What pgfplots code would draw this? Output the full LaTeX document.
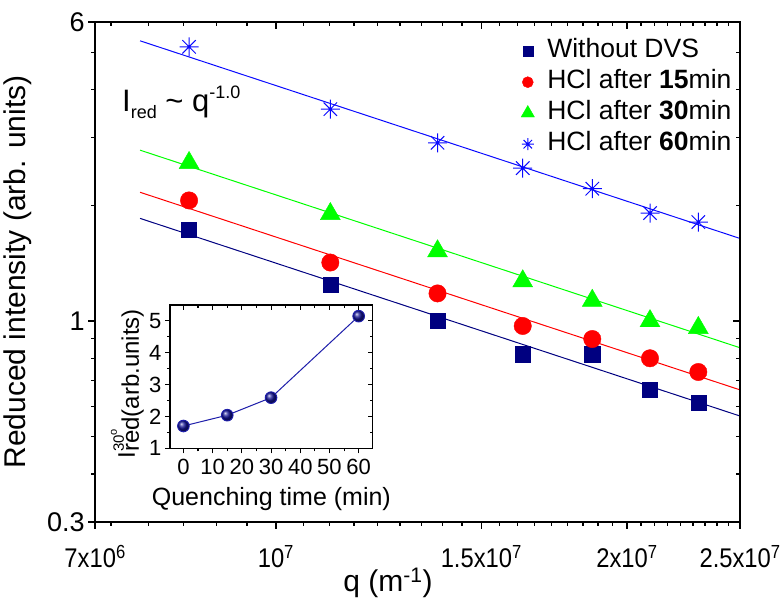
\documentclass[border=0pt]{standalone}
\usepackage{fontspec}
\setmainfont{Liberation Sans}
\usepackage{graphicx}
\usepackage{pgfplots}
\pgfplotsset{compat=1.18}
\pgfplotsset{legend image code/.code={\path[draw=none,fill=none] (0pt,-5pt) rectangle (26pt,5pt); \draw[#1] plot coordinates {(8.5pt,0pt)};}}

\definecolor{navyc}{RGB}{0,0,128}
\definecolor{redc}{RGB}{255,0,0}
\definecolor{greenc}{RGB}{0,255,0}
\definecolor{bluec}{RGB}{10,10,255}
\definecolor{insetline}{RGB}{30,30,170}
\definecolor{ballc}{RGB}{20,20,150}

\newcommand{\tl}[1]{\scalebox{0.88}[1]{#1}}

\pgfdeclareplotmark{star8}{%
  \pgfpathmoveto{\pgfqpoint{-\pgfplotmarksize}{0pt}}\pgfpathlineto{\pgfqpoint{\pgfplotmarksize}{0pt}}%
  \pgfpathmoveto{\pgfqpoint{0pt}{-\pgfplotmarksize}}\pgfpathlineto{\pgfqpoint{0pt}{\pgfplotmarksize}}%
  \pgfpathmoveto{\pgfqpoint{-0.7071\pgfplotmarksize}{-0.7071\pgfplotmarksize}}\pgfpathlineto{\pgfqpoint{0.7071\pgfplotmarksize}{0.7071\pgfplotmarksize}}%
  \pgfpathmoveto{\pgfqpoint{-0.7071\pgfplotmarksize}{0.7071\pgfplotmarksize}}\pgfpathlineto{\pgfqpoint{0.7071\pgfplotmarksize}{-0.7071\pgfplotmarksize}}%
  \pgfusepathqstroke}
\pgfdeclareplotmark{myball}{\shade[ball color=ballc] (0pt,0pt) circle (\pgfplotmarksize);}

\def\minorX{7222222,7777778,8333333,8888889,9444444,10555556,11111111,11666667,12222222,12777778,13333333,13888889,14444444,15555556,16111111,16666667,17222222,17777778,18333333,18888889,19444444,20555556,21111111,21666667,22222222,22777778,23333333,23888889,24444444}

\begin{document}
\begin{tikzpicture}
\path[use as bounding box] (0,0) rectangle (782pt,602pt);
\begin{axis}[
  at={(95pt,80pt)}, anchor=south west, scale only axis, width=645pt, height=500pt,
  xmode=log, ymode=log, xmin=7e6, xmax=2.5e7, ymin=0.3, ymax=6,
  axis line style={line width=1.5pt}, tick style={line width=1.3pt,black},
  major tick length=7pt, minor tick length=4pt,
  xtick={7e6,1e7,1.5e7,2e7,2.5e7},
  minor xtick/.expand once=\minorX,
  ytick={0.3,1,6}, minor ytick={0.4,0.5,0.6,0.7,0.8,0.9,2,3,4,5},
  tick align=outside, tick pos=left,
  xticklabels={\tl{7x10\textsuperscript{6}}, \tl{10\textsuperscript{7}}, \tl{1.5x10\textsuperscript{7}}, \tl{2x10\textsuperscript{7}}, \tl{2.5x10\textsuperscript{7}}},
  yticklabels={0.3,1,6},
  ticklabel style={font=\fontsize{27}{31}\selectfont},
  xticklabel style={yshift=-13pt},
  xlabel={q (m\textsuperscript{-1})},
  ylabel={Reduced intensity (arb. units)},
  label style={font=\fontsize{30}{35}\selectfont},
  xlabel style={at={(axis description cs:0.454,-0.122)}, anchor=center},
  ylabel style={at={(axis description cs:-0.1194,0.5)}, anchor=center},
  legend cell align=left,
  legend style={draw=none, fill=none, at={(rel axis cs:0.6527,0.977)}, anchor=north west,
    font=\fontsize{26.5}{31}\selectfont, row sep=0pt,
    nodes={inner sep=2pt, text height=20pt, text depth=7pt}},
]
\addplot[navyc, line width=1pt, forget plot] coordinates {(7.65e6,1.850) (2.5e7,0.566)};
\addplot[redc, line width=1pt, forget plot] coordinates {(7.65e6,2.163) (2.5e7,0.662)};
\addplot[greenc, line width=1pt, forget plot] coordinates {(7.65e6,2.784) (2.5e7,0.852)};
\addplot[bluec, line width=1pt, forget plot] coordinates {(7.65e6,5.36) (2.5e7,1.64)};

\addplot[only marks, mark=square*, mark size=7.6pt, color=navyc,
  legend image post style={mark size=5pt}] coordinates {
 (8.426e6,1.725) (1.1135e7,1.245) (1.3759e7,1.00) (1.6279e7,0.82) (1.8674e7,0.82) (2.0927e7,0.662) (2.3021e7,0.612)};
\addlegendentry{Without DVS}
\addplot[only marks, mark=*, mark size=8.7pt, color=redc,
  legend image post style={mark size=5.5pt}] coordinates {
 (8.426e6,2.06) (1.1135e7,1.42) (1.3759e7,1.18) (1.6279e7,0.971) (1.8674e7,0.898) (2.0927e7,0.80) (2.3021e7,0.737)};
\addlegendentry{HCl after \textbf{15}min}
\addplot[only marks, mark=triangle*, mark size=11.5pt, color=greenc,
  legend image post style={mark size=7.7pt}] coordinates {
 (8.426e6,2.58) (1.1135e7,1.90) (1.3759e7,1.52) (1.6279e7,1.27) (1.8674e7,1.13) (2.0927e7,1.00) (2.3021e7,0.96)};
\addlegendentry{HCl after \textbf{30}min}
\addplot[only marks, mark=star8, mark size=9.5pt, color=bluec, line width=1pt,
  legend image post style={mark size=6pt}] coordinates {
 (8.426e6,5.17) (1.1135e7,3.56) (1.3759e7,2.91) (1.6279e7,2.50) (1.8674e7,2.21) (2.0927e7,1.91) (2.3021e7,1.81)};
\addlegendentry{HCl after \textbf{60}min}
\end{axis}
\begin{axis}[
  at={(95pt,80pt)}, anchor=south west, scale only axis, width=645pt, height=500pt,
  xmode=log, ymode=log, xmin=7e6, xmax=2.5e7, ymin=0.3, ymax=6,
  axis line style={line width=1.5pt}, tick style={line width=1.3pt,black},
  major tick length=7pt, minor tick length=4pt,
  xtick={7e6,1e7,1.5e7,2e7,2.5e7},
  minor xtick/.expand once=\minorX,
  ytick={0.3,1,6}, minor ytick={0.4,0.5,0.6,0.7,0.8,0.9,2,3,4,5},
  tick align=inside, tick pos=right, xticklabels={}, yticklabels={}]
\end{axis}

\node[anchor=base west, font=\fontsize{31}{36}\selectfont, inner sep=0pt] at (122pt,490pt)
  {I\raisebox{-7pt}{\fontsize{18}{18}\selectfont red} \textasciitilde{} q\raisebox{13.8pt}{\fontsize{18}{18}\selectfont -1.0}};

\begin{axis}[
  at={(170pt,153.7pt)}, anchor=south west, scale only axis, width=202.7pt, height=143.3pt,
  xmin=-4.6, xmax=64.8, ymin=1, ymax=5.5,
  axis line style={line width=1.3pt}, tick style={line width=1.1pt,black},
  major tick length=5pt, minor tick length=3pt,
  xtick={0,10,20,30,40,50,60}, minor xtick={5,15,25,35,45,55},
  ytick={1,2,3,4,5}, minor ytick={1.5,2.5,3.5,4.5},
  axis background/.style={fill=white},
  tick align=outside, tick pos=left,
  /pgf/number format/assume math mode=true,
  ticklabel style={font=\fontsize{22}{26}\selectfont},
  xticklabel style={yshift=-2pt},
  xlabel={Quenching time (min)},
  xlabel style={font=\fontsize{25}{29}\selectfont, at={(axis description cs:0.5,-0.40)}, anchor=base},
  ylabel={\raisebox{4pt}{I}\makebox[0pt][l]{\raisebox{15pt}{\fontsize{15}{15}\selectfont 30\raisebox{7pt}{\fontsize{11}{11}\selectfont o}}}red(arb.units)},
  ylabel style={font=\fontsize{24}{28}\selectfont, at={(axis description cs:-0.21,0.45)}, anchor=center},
]
\addplot[insetline, line width=1pt, mark=myball, mark size=5.8pt] coordinates {
 (0,1.70) (15,2.04) (30,2.59) (60,5.15)};
\end{axis}
\begin{axis}[
  at={(170pt,153.7pt)}, anchor=south west, scale only axis, width=202.7pt, height=143.3pt,
  xmin=-4.6, xmax=64.8, ymin=1, ymax=5.5,
  axis line style={line width=1.3pt}, tick style={line width=1.1pt,black},
  major tick length=5pt, minor tick length=3pt,
  xtick={0,10,20,30,40,50,60}, minor xtick={5,15,25,35,45,55},
  ytick={1,2,3,4,5}, minor ytick={1.5,2.5,3.5,4.5},
  tick align=inside, tick pos=right, xticklabels={}, yticklabels={}]
\end{axis}
\end{tikzpicture}
\end{document}
